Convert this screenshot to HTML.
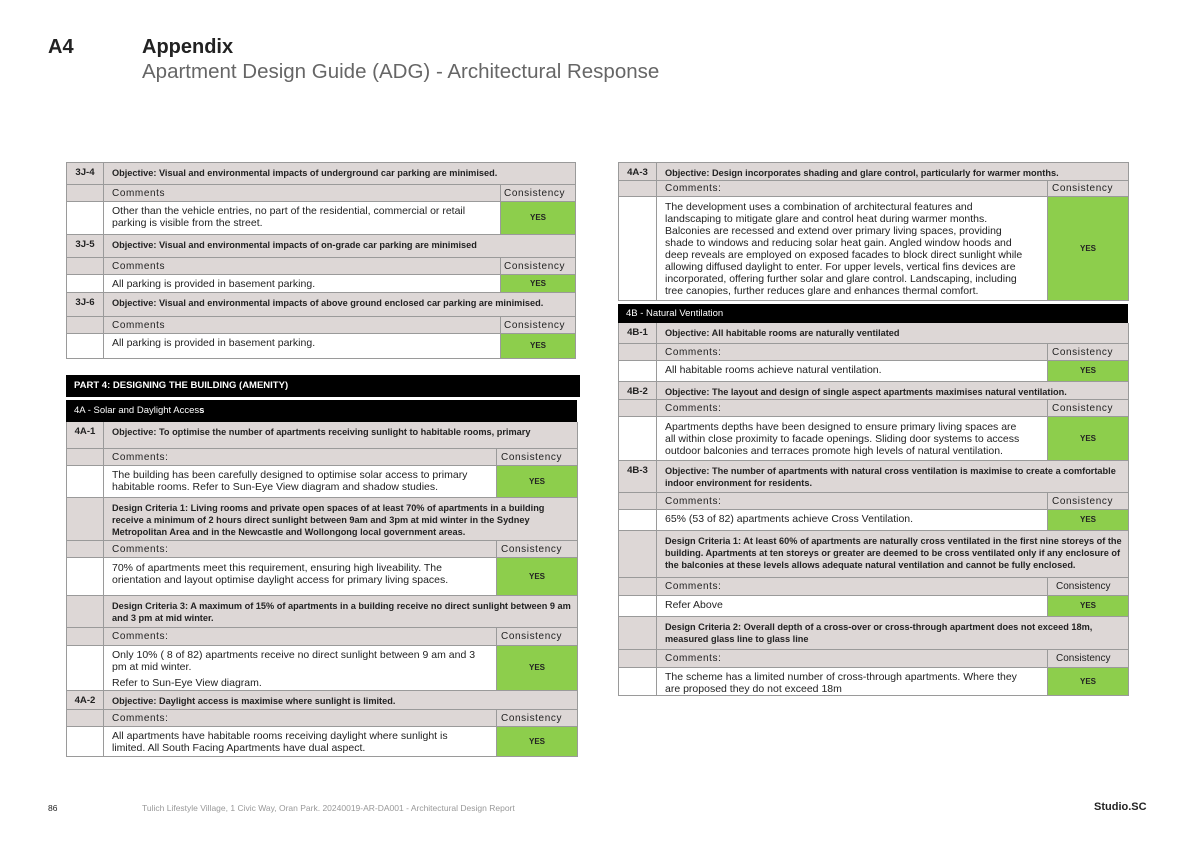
<!DOCTYPE html>
<html><head><meta charset="utf-8"><style>
*{margin:0;padding:0;box-sizing:border-box}
body{width:1193px;height:843px;background:#fff;position:relative;overflow:hidden;font-family:"Liberation Sans",sans-serif;color:#222}
.a{position:absolute}
.r{position:absolute;display:flex;border-left:1px solid #9a9a9a}
.r>div{border-right:1px solid #9a9a9a;border-bottom:1px solid #9a9a9a;font-size:10.5px;line-height:12px;padding:3px 8px;overflow:hidden}
.g>div{background:#ddd7d6}
.b{font-weight:bold;font-size:9.2px!important;padding:4px 4px 0 8px!important}
.r>div.c0{text-align:center;font-weight:bold;padding:4px 0;font-size:9.6px}
.y{background:#8dce4c!important;display:flex;align-items:center;justify-content:center;font-size:8px!important;font-weight:bold}
.cm div{letter-spacing:0.6px;font-size:10px!important;padding-top:3px!important}
.w>div{background:#fff}
.rt .w>div:nth-child(2){padding-right:26px}
.bar{position:absolute;background:#000;color:#fff;font-size:9.5px;padding:5px 8px}
</style></head><body>
<div class="a" style="left:48px;top:36px;font-size:20px;font-weight:bold">A4</div>
<div class="a" style="left:142px;top:36px;font-size:20px;font-weight:bold">Appendix</div>
<div class="a" style="left:142px;top:60px;font-size:20.5px;color:#666">Apartment Design Guide (ADG) - Architectural Response</div>

<!-- LEFT -->
<div class="r g" style="left:66px;top:162px;height:23px;border-top:1px solid #9a9a9a"><div class="c0" style="width:37px">3J-4</div><div class="b" style="width:472px">Objective: Visual and environmental impacts of underground car parking are minimised.</div></div>
<div class="r g cm" style="left:66px;top:185px;height:17px"><div style="width:37px"></div><div style="width:397px">Comments</div><div style="width:75px;padding:3px 3px!important">Consistency</div></div>
<div class="r w" style="left:66px;top:202px;height:33px"><div style="width:37px"></div><div style="width:397px">Other than the vehicle entries, no part of the residential, commercial or retail parking is visible from the street.</div><div class="y" style="width:75px">YES</div></div>
<div class="r g" style="left:66px;top:235px;height:23px"><div class="c0" style="width:37px">3J-5</div><div class="b" style="width:472px">Objective: Visual and environmental impacts of on-grade car parking are minimised</div></div>
<div class="r g cm" style="left:66px;top:258px;height:17px"><div style="width:37px"></div><div style="width:397px">Comments</div><div style="width:75px;padding:3px 3px!important">Consistency</div></div>
<div class="r w" style="left:66px;top:275px;height:18px"><div style="width:37px"></div><div style="width:397px">All parking is provided in basement parking.</div><div class="y" style="width:75px">YES</div></div>
<div class="r g" style="left:66px;top:293px;height:24px"><div class="c0" style="width:37px">3J-6</div><div class="b" style="width:472px">Objective: Visual and environmental impacts of above ground enclosed car parking are minimised.</div></div>
<div class="r g cm" style="left:66px;top:317px;height:17px"><div style="width:37px"></div><div style="width:397px">Comments</div><div style="width:75px;padding:3px 3px!important">Consistency</div></div>
<div class="r w" style="left:66px;top:334px;height:25px"><div style="width:37px"></div><div style="width:397px">All parking is provided in basement parking.</div><div class="y" style="width:75px">YES</div></div>

<div class="bar" style="left:66px;top:375px;width:514px;height:22px;font-weight:bold">PART 4: DESIGNING THE BUILDING (AMENITY)</div>
<div class="bar" style="left:66px;top:400px;width:511px;height:22px">4A - Solar and Daylight Acces<b>s</b></div>
<div class="r g" style="left:66px;top:422px;height:27px"><div class="c0" style="width:37px">4A-1</div><div class="b" style="width:474px">Objective: To optimise the number of apartments receiving sunlight to habitable rooms, primary<u> </u></div></div>
<div class="r g cm" style="left:66px;top:449px;height:17px"><div style="width:37px"></div><div style="width:393px">Comments:</div><div style="width:81px;padding:3px 4px!important">Consistency</div></div>
<div class="r w" style="left:66px;top:466px;height:32px"><div style="width:37px"></div><div style="width:393px">The building has been carefully designed to optimise solar access to primary habitable rooms. Refer to Sun-Eye View diagram and shadow studies.</div><div class="y" style="width:81px">YES</div></div>
<div class="r g" style="left:66px;top:498px;height:43px"><div style="width:37px"></div><div class="b" style="width:474px">Design Criteria 1: Living rooms and private open spaces of at least 70% of apartments in a building receive a minimum of 2 hours direct sunlight between 9am and 3pm at mid winter in the Sydney Metropolitan Area and in the Newcastle and Wollongong local government areas.</div></div>
<div class="r g cm" style="left:66px;top:541px;height:17px"><div style="width:37px"></div><div style="width:393px">Comments:</div><div style="width:81px;padding:3px 4px!important">Consistency</div></div>
<div class="r w" style="left:66px;top:558px;height:38px"><div style="width:37px"></div><div style="width:393px;padding-top:4px">70% of apartments meet this requirement, ensuring high liveability. The orientation and layout optimise daylight access for primary living spaces.</div><div class="y" style="width:81px">YES</div></div>
<div class="r g" style="left:66px;top:596px;height:32px"><div style="width:37px"></div><div class="b" style="width:474px">Design Criteria 3: A maximum of 15% of apartments in a building receive no direct sunlight between 9 am and 3 pm at mid winter.</div></div>
<div class="r g cm" style="left:66px;top:628px;height:18px"><div style="width:37px"></div><div style="width:393px">Comments:</div><div style="width:81px;padding:3px 4px!important">Consistency</div></div>
<div class="r w" style="left:66px;top:646px;height:45px"><div style="width:37px"></div><div style="width:393px">Only 10% ( 8 of 82) apartments receive no direct sunlight between 9 am and 3 pm at mid winter.<br><span style="display:block;margin-top:4px">Refer to Sun-Eye View diagram.</span></div><div class="y" style="width:81px">YES</div></div>
<div class="r g" style="left:66px;top:691px;height:19px"><div class="c0" style="width:37px">4A-2</div><div class="b" style="width:474px">Objective: Daylight access is maximise where sunlight is limited.</div></div>
<div class="r g cm" style="left:66px;top:710px;height:17px"><div style="width:37px"></div><div style="width:393px">Comments:</div><div style="width:81px;padding:3px 4px!important">Consistency</div></div>
<div class="r w" style="left:66px;top:727px;height:30px"><div style="width:37px"></div><div style="width:393px;padding-right:30px">All apartments have habitable rooms receiving daylight where sunlight is limited. All South Facing Apartments have dual aspect.</div><div class="y" style="width:81px">YES</div></div>

<!-- RIGHT -->
<div class="rt">
<div class="r g" style="left:618px;top:162px;height:19px;border-top:1px solid #9a9a9a"><div class="c0" style="width:38px">4A-3</div><div class="b" style="width:472px">Objective: Design incorporates shading and glare control, particularly for warmer months.</div></div>
<div class="r g cm" style="left:618px;top:181px;height:16px"><div style="width:38px"></div><div style="width:391px;padding-top:2px!important">Comments:</div><div style="width:81px;padding:2px 4px!important">Consistency</div></div>
<div class="r w" style="left:618px;top:197px;height:104px"><div style="width:38px"></div><div style="width:391px;padding-top:4px;padding-right:20px!important">The development uses a combination of architectural features and landscaping to mitigate glare and control heat during warmer months. Balconies are recessed and extend over primary living spaces, providing shade to windows and reducing solar heat gain. Angled window hoods and deep reveals are employed on exposed facades to block direct sunlight while allowing diffused daylight to enter. For upper levels, vertical fins devices are incorporated, offering further solar and glare control. Landscaping, including tree canopies, further reduces glare and enhances thermal comfort.</div><div class="y" style="width:81px">YES</div></div>
<div class="bar" style="left:618px;top:304px;width:510px;height:19px;padding-top:4px">4B - Natural Ventilation</div>
<div class="r g" style="left:618px;top:323px;height:21px"><div class="c0" style="width:38px">4B-1</div><div class="b" style="width:472px">Objective: All habitable rooms are naturally ventilated</div></div>
<div class="r g cm" style="left:618px;top:344px;height:17px"><div style="width:38px"></div><div style="width:391px">Comments:</div><div style="width:81px;padding:3px 4px!important">Consistency</div></div>
<div class="r w" style="left:618px;top:361px;height:21px"><div style="width:38px"></div><div style="width:391px">All habitable rooms achieve natural ventilation.</div><div class="y" style="width:81px">YES</div></div>
<div class="r g" style="left:618px;top:382px;height:18px"><div class="c0" style="width:38px">4B-2</div><div class="b" style="width:472px">Objective: The layout and design of single aspect apartments maximises natural ventilation.</div></div>
<div class="r g cm" style="left:618px;top:400px;height:17px"><div style="width:38px"></div><div style="width:391px">Comments:</div><div style="width:81px;padding:3px 4px!important">Consistency</div></div>
<div class="r w" style="left:618px;top:417px;height:44px"><div style="width:38px"></div><div style="width:391px;padding-top:4px">Apartments depths have been designed to ensure primary living spaces are all within close proximity to facade openings. Sliding door systems to access outdoor balconies and terraces promote high levels of natural ventilation.</div><div class="y" style="width:81px">YES</div></div>
<div class="r g" style="left:618px;top:461px;height:32px"><div class="c0" style="width:38px">4B-3</div><div class="b" style="width:472px">Objective: The number of apartments with natural cross ventilation is maximise to create a comfortable indoor environment for residents.</div></div>
<div class="r g cm" style="left:618px;top:493px;height:17px"><div style="width:38px"></div><div style="width:391px">Comments:</div><div style="width:81px;padding:3px 4px!important">Consistency</div></div>
<div class="r w" style="left:618px;top:510px;height:21px"><div style="width:38px"></div><div style="width:391px">65% (53 of 82) apartments achieve Cross Ventilation.</div><div class="y" style="width:81px">YES</div></div>
<div class="r g" style="left:618px;top:531px;height:47px"><div style="width:38px"></div><div class="b" style="width:472px">Design Criteria 1: At least 60% of apartments are naturally cross ventilated in the first nine storeys of the building. Apartments at ten storeys or greater are deemed to be cross ventilated only if any enclosure of the balconies at these levels allows adequate natural ventilation and cannot be fully enclosed.</div></div>
<div class="r g cm" style="left:618px;top:578px;height:18px"><div style="width:38px"></div><div style="width:391px">Comments:</div><div style="width:81px;padding:3px 8px!important;letter-spacing:0">Consistency</div></div>
<div class="r w" style="left:618px;top:596px;height:21px"><div style="width:38px"></div><div style="width:391px">Refer Above</div><div class="y" style="width:81px">YES</div></div>
<div class="r g" style="left:618px;top:617px;height:33px"><div style="width:38px"></div><div class="b" style="width:472px">Design Criteria 2: Overall depth of a cross-over or cross-through apartment does not exceed 18m, measured glass line to glass line</div></div>
<div class="r g cm" style="left:618px;top:650px;height:18px"><div style="width:38px"></div><div style="width:391px">Comments:</div><div style="width:81px;padding:3px 8px!important;letter-spacing:0">Consistency</div></div>
<div class="r w" style="left:618px;top:668px;height:28px"><div style="width:38px"></div><div style="width:391px">The scheme has a limited number of cross-through apartments. Where they are proposed they do not exceed 18m</div><div class="y" style="width:81px">YES</div></div>
</div>

<div class="a" style="left:48px;top:803px;font-size:8.5px">86</div>
<div class="a" style="left:142px;top:803px;font-size:8.5px;color:#999">Tulich Lifestyle Village, 1 Civic Way, Oran Park. 20240019-AR-DA001 - Architectural Design Report</div>
<div class="a" style="left:1094px;top:801px;font-size:11px;font-weight:bold">Studio.SC</div>
</body></html>
